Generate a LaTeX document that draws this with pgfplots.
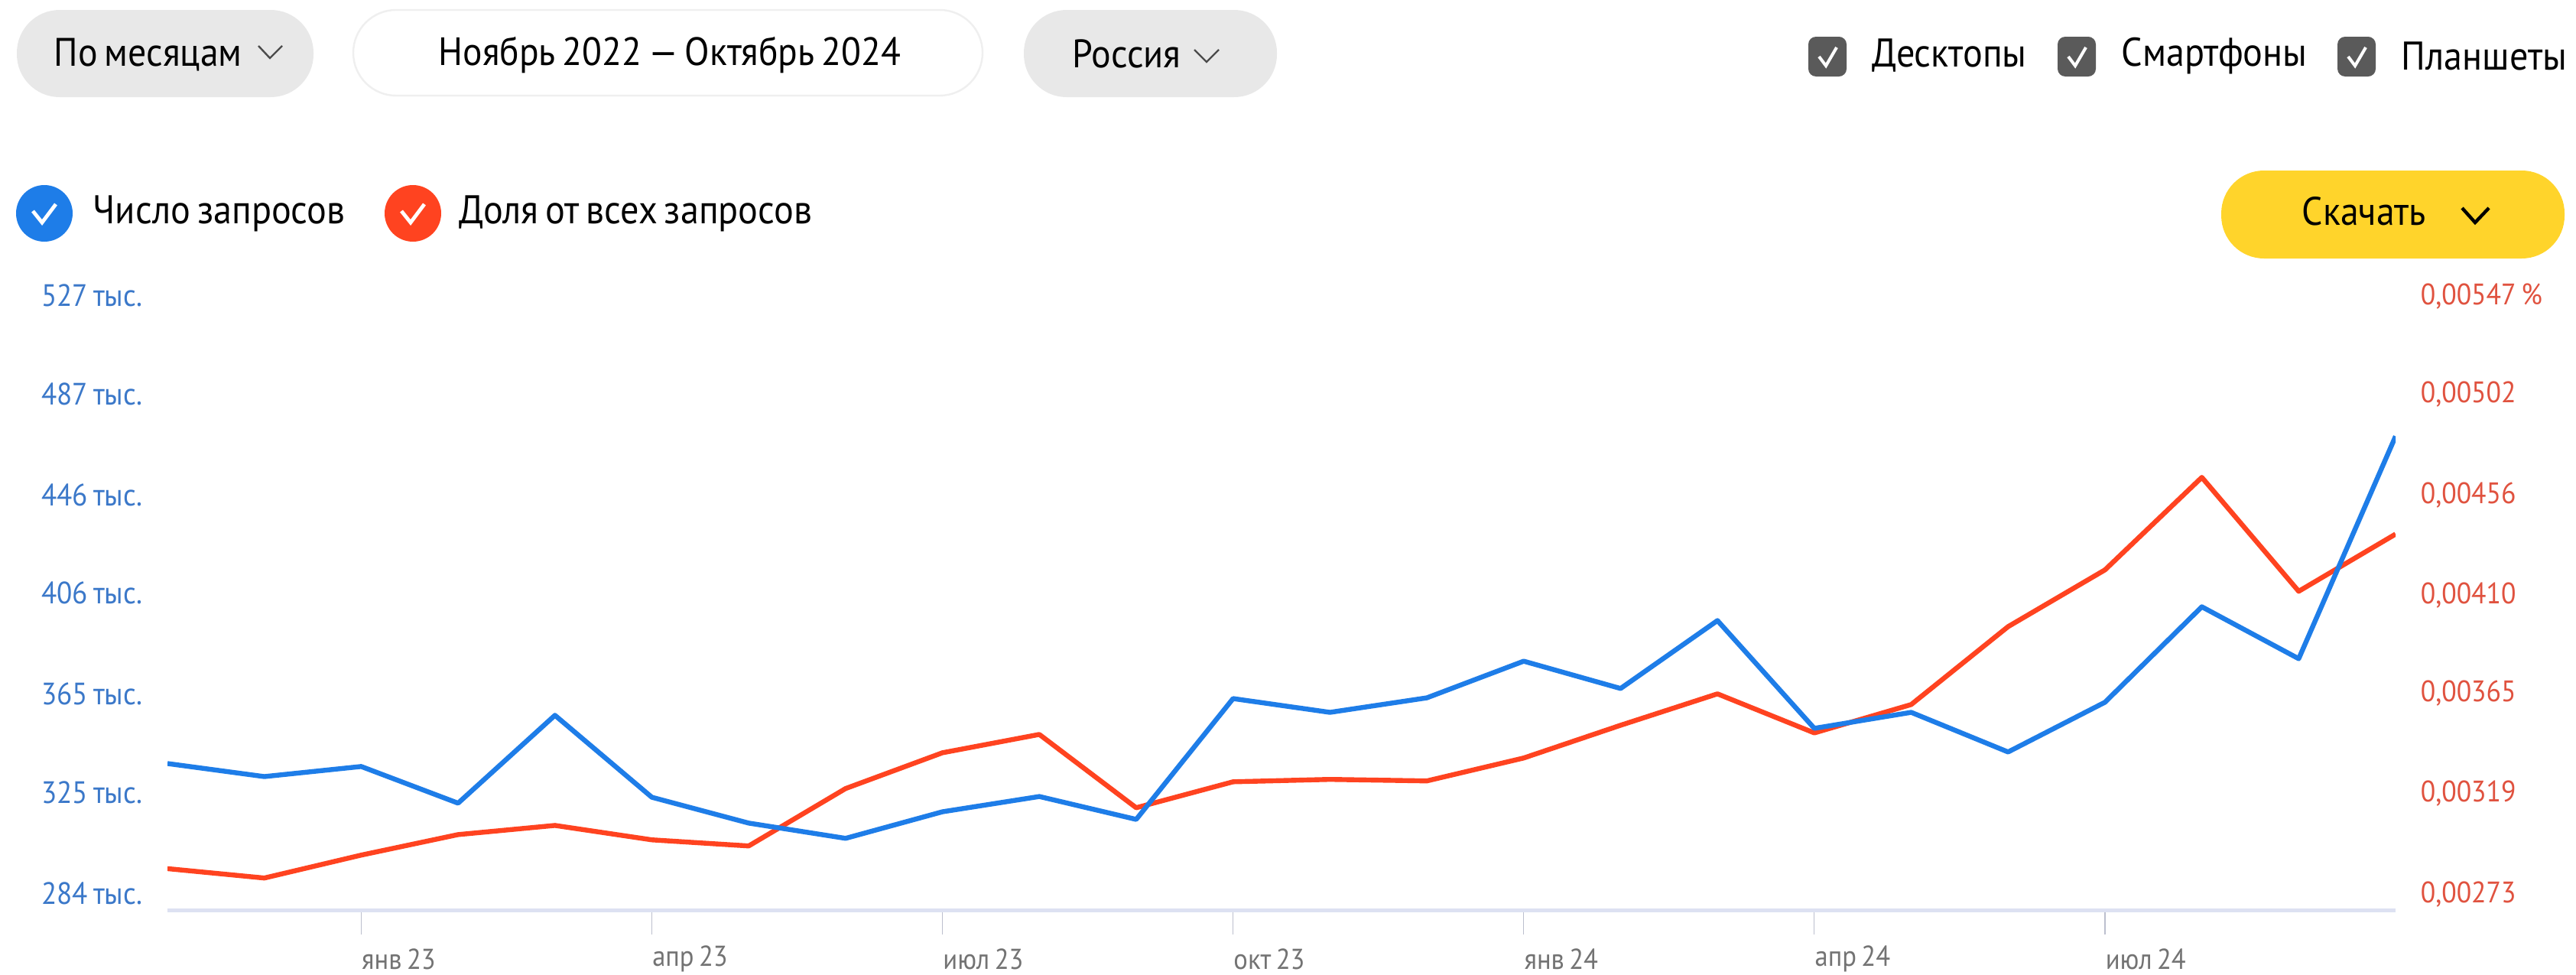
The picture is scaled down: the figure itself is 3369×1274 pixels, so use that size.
\documentclass[border=0pt]{standalone}
\usepackage{pgfplots}
\usepackage{fontspec}
\pgfplotsset{compat=1.18}
\setmainfont[FakeStretch=0.92,WordSpace=0.7]{PT Sans}
\definecolor{bl}{HTML}{1E7DE8}
\definecolor{rd}{HTML}{FF4320}
\definecolor{yl}{HTML}{FFD42B}
\definecolor{pill}{HTML}{E8E8E8}
\definecolor{chk}{HTML}{5A5A5A}
\definecolor{base}{HTML}{DDE1F2}
\definecolor{blt}{HTML}{3B78C9}
\definecolor{rdt}{HTML}{E0523F}
\newcommand{\fs}[1]{\fontsize{#1}{#1}\selectfont}
\begin{document}
\begin{tikzpicture}[x=0.25pt,y=-0.25pt]
\useasboundingbox (0,0) rectangle (3369,1274);
\fill[white] (0,0) rectangle (3369,1274);
% pills
\fill[pill,rounded corners=14pt] (22,13) rectangle (410,127);
\draw[pill!70!white,line width=0.6pt,rounded corners=14pt] (462,13) rectangle (1285,125);
\fill[pill,rounded corners=14pt] (1339,13) rectangle (1670,127);
\node[anchor=west,inner sep=0] at (70,72) {\fs{13}По месяцам};
\node[anchor=west,inner sep=0] at (573,72) {\fs{12.9}Ноябрь 2022 — Октябрь 2024};
\node[anchor=west,inner sep=0] at (1402,70) {\fs{13}Россия};
\draw[line width=0.6pt,black!70] (338,60) -- (353,76) -- (369,60);
\draw[line width=0.6pt,black!70] (1562,65) -- (1578,81) -- (1594,65);
% checkboxes
\foreach \x/\t in {2365/Десктопы,2691/Смартфоны,3057/Планшеты}{
  \fill[chk,rounded corners=2.5pt] (\x,48) rectangle ++(50,52);
  \draw[white,line width=1pt] (\x+14,74) -- (\x+23,86) -- (\x+37,62);
  \node[anchor=west,inner sep=0] at (\x+83,73) {\fs{13.1}\t};
}
% legend
\fill[bl] (58,279) circle[radius=37];
\draw[white,line width=1.2pt] (43,276) -- (55,291) -- (73,267);
\node[anchor=west,inner sep=0] at (121,279) {\fs{13.1}Число запросов};
\fill[rd] (540,279) circle[radius=37];
\draw[white,line width=1.2pt] (525,276) -- (537,291) -- (555,267);
\node[anchor=west,inner sep=0] at (600,279) {\fs{13.1}Доля от всех запросов};
% button
\fill[yl,rounded corners=14pt] (2905,223) rectangle (3354,338);
\node[anchor=west,inner sep=0] at (3010,276) {\fs{13}Скачать};
\draw[line width=1.1pt,black] (3220,272) -- (3237,291) -- (3255,272);
% axes
\begin{axis}[
  at={(54.75pt,-297.6pt)},anchor=south west,
  scale only axis,width=728.5pt,height=205.5pt,
  xmin=0,xmax=23,ymin=2.649,ymax=5.5296,
  axis x line=none,
  axis y line*=right,
  y axis line style={draw=none},
  major tick length=0pt,
  ytick={2.73,3.19,3.65,4.10,4.56,5.02,5.47},
  yticklabels={{0,00273},{0,00319},{0,00365},{0,00410},{0,00456},{0,00502},{0,00547 \%}},
  yticklabel style={anchor=west,inner sep=0pt,xshift=8pt,yshift=-0.5pt,font=\fs{9.7},text=rdt},
]
\addplot[rd,line width=1.6pt,line join=round] coordinates {
(0,2.84)(1,2.797)(2,2.902)(3,2.996)(4,3.038)(5,2.972)(6,2.944)(7,3.207)(8,3.371)(9,3.455)(10,3.119)(11,3.238)(12,3.249)(13,3.242)(14,3.347)(15,3.497)(16,3.641)(17,3.462)(18,3.592)(19,3.949)(20,4.209)(21,4.633)(22,4.111)(23,4.373)};
\end{axis}
\begin{axis}[
  at={(54.75pt,-297.6pt)},anchor=south west,
  scale only axis,width=728.5pt,height=205.5pt,
  xmin=0,xmax=23,ymin=276.85,ymax=532.3,
  axis x line*=bottom,
  axis y line*=left,
  y axis line style={draw=none},
  x axis line style={draw=base,line width=1.25pt},
  xtick={2,5,8,11,14,17,20},
  xticklabels={янв 23,апр 23,июл 23,окт 23,янв 24,апр 24,июл 24},
  tick align=outside,
  xtick style={draw=base!85!black,line width=0.3pt},
  x tick style={/pgfplots/major tick length=8pt},
  ytick style={draw=none},
  ytick={284,325,365,406,446,487,527},
  yticklabels={284 тыс.,325 тыс.,365 тыс.,406 тыс.,446 тыс.,487 тыс.,527 тыс.},
  yticklabel style={anchor=east,inner sep=0pt,xshift=-3.75pt,yshift=-0.25pt,font=\fs{10.1},text=blt},
  xticklabel style={anchor=west,inner sep=0pt,yshift=-11.7pt,xshift=0pt,font=\fs{9.4},text=black!55},
]
\addplot[bl,line width=1.6pt,line join=round] coordinates {
(0,336.5)(1,331.2)(2,335.3)(3,320.4)(4,356.1)(5,322.8)(6,312.3)(7,306.1)(8,316.9)(9,323.1)(10,313.8)(11,362.9)(12,357.3)(13,363.2)(14,378.1)(15,367.0)(16,394.6)(17,350.8)(18,357.3)(19,341.2)(20,361.4)(21,400.2)(22,379.1)(23,469.5)};
\end{axis}
\end{tikzpicture}
\end{document}
